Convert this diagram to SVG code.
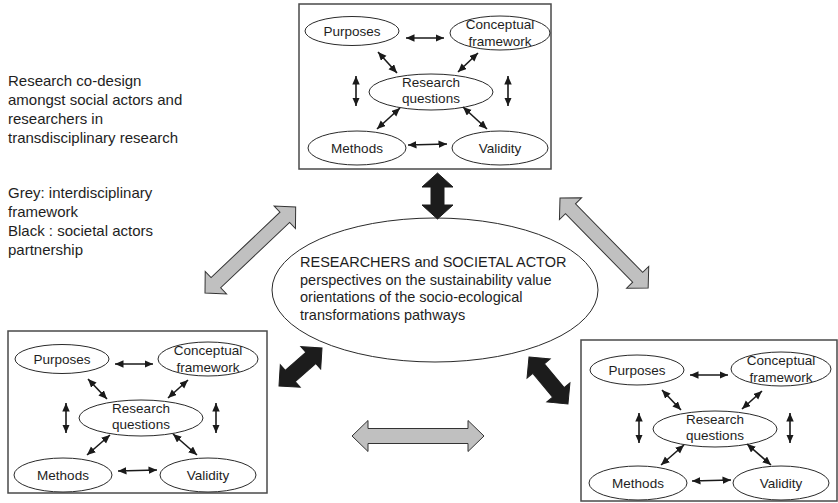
<svg xmlns="http://www.w3.org/2000/svg" xmlns:xlink="http://www.w3.org/1999/xlink" width="838" height="503" viewBox="0 0 838 503">
<style>
text{font-family:"Liberation Sans",Arial,sans-serif;fill:#1e1e1e}
.lbl{font-size:13.5px;text-anchor:middle}
.side{font-size:15px}
.ctr{font-size:14.5px}
.node{fill:#fff;stroke:#2a2a2a;stroke-width:1}
.box{fill:#fff;stroke:#4a4a4a;stroke-width:1.5}
.sm{stroke:#1a1a1a;stroke-width:1.6;fill:none;marker-start:url(#ah);marker-end:url(#ah)}
.grey{fill:#c0c0c0;stroke:#333;stroke-width:1}
.black{fill:#1c1c1c;stroke:#1c1c1c;stroke-width:1}
</style>
<defs>
<marker id="ah" markerUnits="userSpaceOnUse" markerWidth="10" markerHeight="8" refX="8.5" refY="3.75" orient="auto-start-reverse">
<path d="M0,0 L8.5,3.75 L0,7.5 z" fill="#1a1a1a"/>
</marker>
</defs>
<rect width="838" height="503" fill="#fff"/>

<g id="legend">
<text class="side" x="8" y="86">Research co-design</text>
<text class="side" x="8" y="105">amongst social actors and</text>
<text class="side" x="8" y="124">researchers in</text>
<text class="side" x="8" y="143">transdisciplinary research</text>
<text class="side" x="8" y="198">Grey: interdisciplinary</text>
<text class="side" x="8" y="217">framework</text>
<text class="side" x="8" y="236">Black : societal actors</text>
<text class="side" x="8" y="255">partnership</text>
</g>

<!-- Top box -->
<g id="box-top" transform="translate(299,4)">
<rect class="box" x="0" y="0" width="252" height="165"/>
<g id="top-purposes"><ellipse class="node" cx="53" cy="27" rx="47" ry="14.5"/><text class="lbl" x="53" y="32">Purposes</text></g>
<g id="top-conceptual"><ellipse class="node" cx="201" cy="29" rx="50" ry="17"/><text class="lbl" x="201" y="25">Conceptual</text><text class="lbl" x="201" y="42">framework</text></g>
<g id="top-rq"><ellipse class="node" cx="132" cy="88" rx="62" ry="18"/><text class="lbl" x="132" y="83">Research</text><text class="lbl" x="132" y="99">questions</text></g>
<g id="top-methods"><ellipse class="node" cx="58" cy="144" rx="49" ry="17"/><text class="lbl" x="58" y="149">Methods</text></g>
<g id="top-validity"><ellipse class="node" cx="201" cy="144" rx="48" ry="17"/><text class="lbl" x="201" y="149">Validity</text></g>
<g id="top-connectors">
<line class="sm" x1="107" y1="34" x2="145" y2="34"/>
<line class="sm" x1="79" y1="48" x2="98" y2="69"/>
<line class="sm" x1="179" y1="49" x2="159" y2="68"/>
<line class="sm" x1="57" y1="72" x2="57" y2="102"/>
<line class="sm" x1="209" y1="72" x2="209" y2="102"/>
<line class="sm" x1="101" y1="104" x2="78" y2="125"/>
<line class="sm" x1="164" y1="103" x2="188" y2="125"/>
<line class="sm" x1="109" y1="141" x2="148" y2="140"/>
</g>
</g>

<!-- Bottom-left box -->
<g id="box-left" transform="translate(8,331)">
<rect class="box" x="0" y="0" width="259" height="162"/>
<g id="left-purposes"><ellipse class="node" cx="54" cy="28" rx="47" ry="14.5"/><text class="lbl" x="54" y="33">Purposes</text></g>
<g id="left-conceptual"><ellipse class="node" cx="200" cy="28" rx="50" ry="17"/><text class="lbl" x="200" y="24">Conceptual</text><text class="lbl" x="200" y="41">framework</text></g>
<g id="left-rq"><ellipse class="node" cx="133" cy="87" rx="62" ry="18"/><text class="lbl" x="133" y="82">Research</text><text class="lbl" x="133" y="98">questions</text></g>
<g id="left-methods"><ellipse class="node" cx="55" cy="144" rx="49" ry="17"/><text class="lbl" x="55" y="149">Methods</text></g>
<g id="left-validity"><ellipse class="node" cx="200" cy="144" rx="48" ry="17"/><text class="lbl" x="200" y="149">Validity</text></g>
<g id="left-connectors">
<line class="sm" x1="107" y1="33" x2="145" y2="33"/>
<line class="sm" x1="80" y1="48" x2="99" y2="68"/>
<line class="sm" x1="180" y1="49" x2="160" y2="67"/>
<line class="sm" x1="58" y1="72" x2="58" y2="102"/>
<line class="sm" x1="208" y1="72" x2="208" y2="102"/>
<line class="sm" x1="102" y1="104" x2="79" y2="124"/>
<line class="sm" x1="165" y1="103" x2="189" y2="124"/>
<line class="sm" x1="110" y1="140" x2="149" y2="139"/>
</g>
</g>

<!-- Bottom-right box -->
<g id="box-right" transform="translate(581,340)">
<rect class="box" x="0" y="0" width="256" height="161"/>
<g id="right-purposes"><ellipse class="node" cx="56" cy="30" rx="47" ry="15"/><text class="lbl" x="56" y="35">Purposes</text></g>
<g id="right-conceptual"><ellipse class="node" cx="200" cy="29" rx="50" ry="17"/><text class="lbl" x="200" y="25">Conceptual</text><text class="lbl" x="200" y="42">framework</text></g>
<g id="right-rq"><ellipse class="node" cx="134" cy="89" rx="62" ry="18"/><text class="lbl" x="134" y="84">Research</text><text class="lbl" x="134" y="100">questions</text></g>
<g id="right-methods"><ellipse class="node" cx="57" cy="143" rx="49" ry="17"/><text class="lbl" x="57" y="148">Methods</text></g>
<g id="right-validity"><ellipse class="node" cx="200" cy="143" rx="48" ry="17"/><text class="lbl" x="200" y="148">Validity</text></g>
<g id="right-connectors">
<line class="sm" x1="109" y1="35" x2="147" y2="35"/>
<line class="sm" x1="81" y1="50" x2="100" y2="70"/>
<line class="sm" x1="181" y1="51" x2="161" y2="69"/>
<line class="sm" x1="58" y1="73" x2="58" y2="103"/>
<line class="sm" x1="209" y1="73" x2="209" y2="103"/>
<line class="sm" x1="103" y1="105" x2="80" y2="125"/>
<line class="sm" x1="166" y1="104" x2="190" y2="125"/>
<line class="sm" x1="111" y1="141" x2="150" y2="140"/>
</g>
</g>

<!-- Central node -->
<g id="center">
<ellipse class="node" cx="435" cy="290" rx="163" ry="72"/>
<text class="ctr" x="300" y="267">RESEARCHERS and SOCIETAL ACTOR</text>
<text class="ctr" x="300" y="285">perspectives on the sustainability value</text>
<text class="ctr" x="300" y="302">orientations of the socio-ecological</text>
<text class="ctr" x="300" y="320">transformations pathways</text>
</g>

<!-- Big connectors -->
<g id="connectors">
<polygon class="black" transform="translate(437.5,173) rotate(90)" points="0,0 14,-15.5 14,-6.5 32,-6.5 32,-15.5 46,0 32,15.5 32,6.5 14,6.5 14,15.5"/>
<polygon class="grey" transform="translate(205,293) rotate(-43.5)" points="0,0 15,-15.5 15,-7 110,-7 110,-15.5 125,0 110,15.5 110,7 15,7 15,15.5"/>
<polygon class="grey" transform="translate(560,198) rotate(45.6)" points="0,0 15,-15.5 15,-7 111,-7 111,-15.5 126,0 111,15.5 111,7 15,7 15,15.5"/>
<polygon class="grey" transform="translate(352,436)" points="0,0 16,-15.5 16,-7.5 116,-7.5 116,-15.5 132,0 116,15.5 116,7.5 16,7.5 16,15.5"/>
<polygon class="black" transform="translate(279,386) rotate(-41.5)" points="0,0 15,-15 15,-7.5 42.4,-7.5 42.4,-15 57.4,0 42.4,15 42.4,7.5 15,7.5 15,15"/>
<polygon class="black" transform="translate(529,357) rotate(50.3)" points="0,0 15,-15 15,-7.5 46,-7.5 46,-15 61,0 46,15 46,7.5 15,7.5 15,15"/>
</g>
</svg>
